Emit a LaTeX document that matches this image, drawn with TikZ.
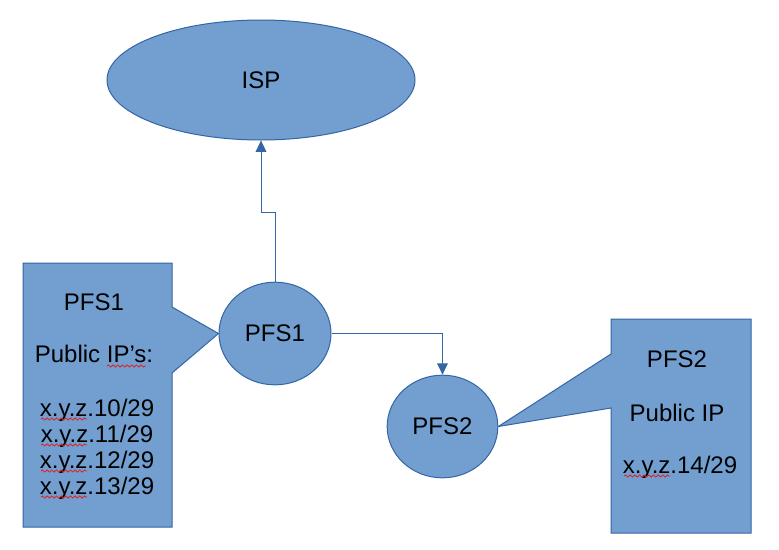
\documentclass[tikz,border=0pt]{standalone}
\usepackage{fontspec}
\setmainfont{Liberation Sans}
\usetikzlibrary{arrows.meta,shapes.geometric,backgrounds,decorations.pathmorphing}
\definecolor{boxfill}{HTML}{729FCF}
\definecolor{boxline}{HTML}{3465A4}
\definecolor{spell}{HTML}{E02020}

\begin{document}
\begin{tikzpicture}[x=0.75pt, y=-0.75pt, >={Triangle[length=8.5pt,width=8pt]},
  shape fill/.style={fill=boxfill, draw=boxline, line width=0.75pt},
  host/.style={shape fill, ellipse, inner sep=0pt},
  link/.style={->, draw=boxline, line width=0.75pt},
  label/.style={anchor=base, font=\fontsize{18}{22}\selectfont},
  squiggle/.style={spell, line width=0.6pt, decorate, decoration={snake, amplitude=0.8pt, segment length=3.5pt}}]
  \useasboundingbox (0,0) rectangle (779,550);

  % Hosts
  \node[host, minimum width=231pt, minimum height=90pt] (isp) at (261,80) {\fontsize{18}{22}\selectfont ISP};
  \node[host, minimum width=84pt, minimum height=77pt] (pfs1) at (275,333.5) {\fontsize{18}{22}\selectfont PFS1};
  \node[host, minimum width=83pt, minimum height=77pt] (pfs2) at (442.5,426.5) {\fontsize{18}{22}\selectfont PFS2};

  % Links
  \draw[link] (pfs1.north) -- (275,212) -| (isp.south);
  \draw[link] (pfs1.east) -| (pfs2.north);

  % Callouts
  \begin{pgfonlayer}{background}
    \draw[shape fill] (23,263) -- (172,263) -- (172,307) -- (pfs1.west) -- (172,373)
      -- (172,527) -- (23,527) -- cycle;
    \draw[shape fill] (611,319) -- (751,319) -- (751,533) -- (611,533) -- (611,408)
      -- (pfs2.east) -- (611,354) -- cycle;
  \end{pgfonlayer}

  % Callout text, PFS1
  \node[label] (ip1title) at (94,310) {PFS1};
  \node[label] (ip1head) at (94,362) {Public IP’s:};
  \node[label] (ip1a) at (97,416) {x.y.z.10/29};
  \node[label] (ip1b) at (97,442) {x.y.z.11/29};
  \node[label] (ip1c) at (97,468) {x.y.z.12/29};
  \node[label] (ip1d) at (97,494) {x.y.z.13/29};

  % Callout text, PFS2
  \node[label] (ip2title) at (677,367) {PFS2};
  \node[label] (ip2head) at (677,421) {Public IP};
  \node[label] (ip2a) at (680,473) {x.y.z.14/29};

  % Spelling marks
  \draw[squiggle] (107,366) -- (146,366);
  \foreach \yy in {419,445,471,497}
    \draw[squiggle] (41,\yy) -- (87,\yy);
  \draw[squiggle] (624,476) -- (670,476);
\end{tikzpicture}
\end{document}
